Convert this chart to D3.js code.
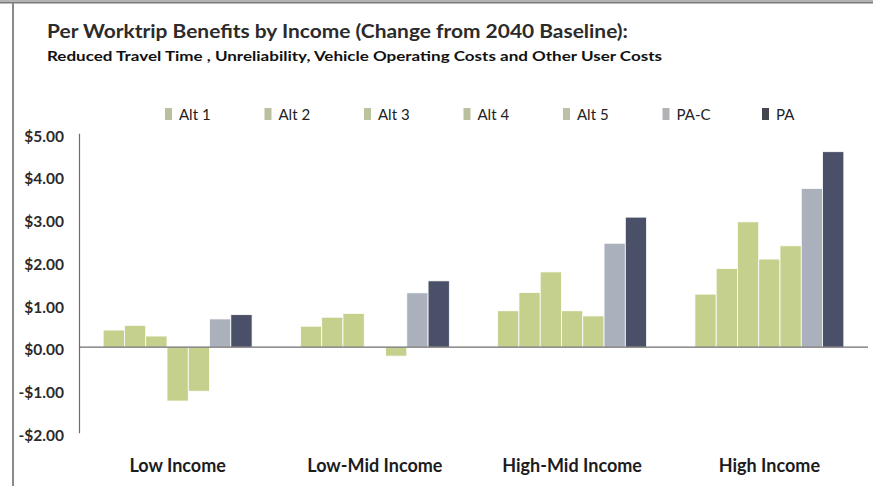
<!DOCTYPE html>
<html>
<head>
<meta charset="utf-8">
<script src="https://cdn.jsdelivr.net/npm/d3@7"></script>
<style>
  html, body { margin: 0; padding: 0; background: #fff; }
  svg { display: block; font-family: Lato, "Open Sans", sans-serif; }
</style>
</head>
<body>
<svg id="chart" width="873" height="486"></svg>
<script>
// Income groups along the x axis
const categories = ["Low Income", "Low-Mid Income", "High-Mid Income", "High Income"];
// Scenario names (legend order)
const seriesNames = ["Alt 1", "Alt 2", "Alt 3", "Alt 4", "Alt 5", "PA-C", "PA"];
// Benefit per work trip ($), one array per scenario, ordered by income group
const alt1 = [0.40, 0.49, 0.85, 1.24];
const alt2 = [0.51, 0.70, 1.28, 1.84];
const alt3 = [0.26, 0.79, 1.76, 2.93];
const alt4 = [-1.26, 0.02, 0.85, 2.06];
const alt5 = [-1.03, -0.21, 0.73, 2.37];
const paC  = [0.66, 1.27, 2.43, 3.71];
const pa   = [0.76, 1.55, 3.04, 4.57];
// Y axis ticks
const yTicks = [-2, -1, 0, 1, 2, 3, 4, 5];

const seriesValues = [alt1, alt2, alt3, alt4, alt5, paC, pa];
const barColors = ["#c5d08c", "#c5d08c", "#c5d08c", "#c5d08c", "#c5d08c", "#abb0bd", "#4a5067"];
const swatchColors = ["#b9c09e", "#b9c09e", "#bcc39c", "#b9c09e", "#bcc1a6", "#b0b2b6", "#45474f"];

const svg = d3.select("#chart");

// Frame lines
svg.append("rect").attr("x", 0).attr("y", 0).attr("width", 873).attr("height", 2).attr("fill", "#b4b4b4");
svg.append("rect").attr("x", 0).attr("y", 2).attr("width", 873).attr("height", 1.5).attr("fill", "#7a7a7a");
svg.append("rect").attr("x", 12).attr("y", 3).attr("width", 2).attr("height", 483).attr("fill", "#8a8a8a");

// Titles
svg.append("text")
  .attr("x", 47).attr("y", 38)
  .attr("font-size", 18.5).attr("font-weight", 700).attr("fill", "#2b2b2b")
  .attr("textLength", 581).attr("lengthAdjust", "spacingAndGlyphs")
  .text("Per Worktrip Benefits by Income (Change from 2040 Baseline):");
svg.append("text")
  .attr("x", 47).attr("y", 61)
  .attr("font-size", 13).attr("font-weight", 700).attr("fill", "#111")
  .attr("textLength", 615).attr("lengthAdjust", "spacingAndGlyphs")
  .text("Reduced Travel Time , Unreliability, Vehicle Operating Costs and Other User Costs");

// Plot area
const plot = { left: 79, right: 868, top: 133.3, bottom: 432.7 };

const y = d3.scaleLinear().domain([-2, 5]).range([plot.bottom, plot.top]);
const x0 = d3.scaleBand().domain(categories).range([plot.left, plot.right]).paddingInner(0.245).paddingOuter(0.1225);
const x1 = d3.scaleBand().domain(seriesNames).range([0, x0.bandwidth()]);

// Bars
const groups = svg.append("g").selectAll("g")
  .data(categories)
  .join("g")
  .attr("transform", d => `translate(${x0(d)},0)`);

groups.selectAll("rect")
  .data((c, ci) => seriesNames.map((s, si) => ({ s, si, v: seriesValues[si][ci] })))
  .join("rect")
  .attr("x", d => x1(d.s))
  .attr("width", x1.bandwidth())
  .attr("y", d => y(Math.max(0, d.v)))
  .attr("height", d => Math.abs(y(d.v) - y(0)))
  .attr("fill", d => barColors[d.si])
  .attr("stroke", "#fff")
  .attr("stroke-width", 0.8);

// Y axis
const yAxis = d3.axisLeft(y).tickValues(yTicks).tickSize(0).tickPadding(15)
  .tickFormat(v => (v < 0 ? "-$" : "$") + Math.abs(v).toFixed(2));
const gy = svg.append("g").attr("transform", `translate(${plot.left},0)`).call(yAxis);
gy.select(".domain").attr("stroke", "#6e6e6e").attr("stroke-width", 1.2);
gy.selectAll("text")
  .attr("font-family", "Lato, sans-serif")
  .attr("font-size", 15.5).attr("font-weight", 700).attr("fill", "#2a2a2a")
  .attr("dy", "0.5em");

// Zero line
svg.append("line")
  .attr("x1", plot.left).attr("x2", plot.right)
  .attr("y1", y(0)).attr("y2", y(0))
  .attr("stroke", "#6e6e6e").attr("stroke-width", 1.2);

// Category labels
svg.append("g").selectAll("text")
  .data(categories)
  .join("text")
  .attr("x", d => x0(d) + x0.bandwidth() / 2)
  .attr("y", 472)
  .attr("text-anchor", "middle")
  .attr("font-size", 18).attr("font-weight", 700).attr("fill", "#1c1c1c")
  .text(d => d);

// Legend
const legend = svg.append("g").selectAll("g")
  .data(seriesNames)
  .join("g")
  .attr("transform", (d, i) => `translate(${165 + i * 99.5},108)`);
legend.append("rect")
  .attr("width", 7).attr("height", 12)
  .attr("fill", (d, i) => swatchColors[i]);
legend.append("text")
  .attr("x", 14).attr("y", 11.5)
  .attr("font-size", 15).attr("font-weight", 400).attr("fill", "#222")
  .text(d => d);
</script>
</body>
</html>
